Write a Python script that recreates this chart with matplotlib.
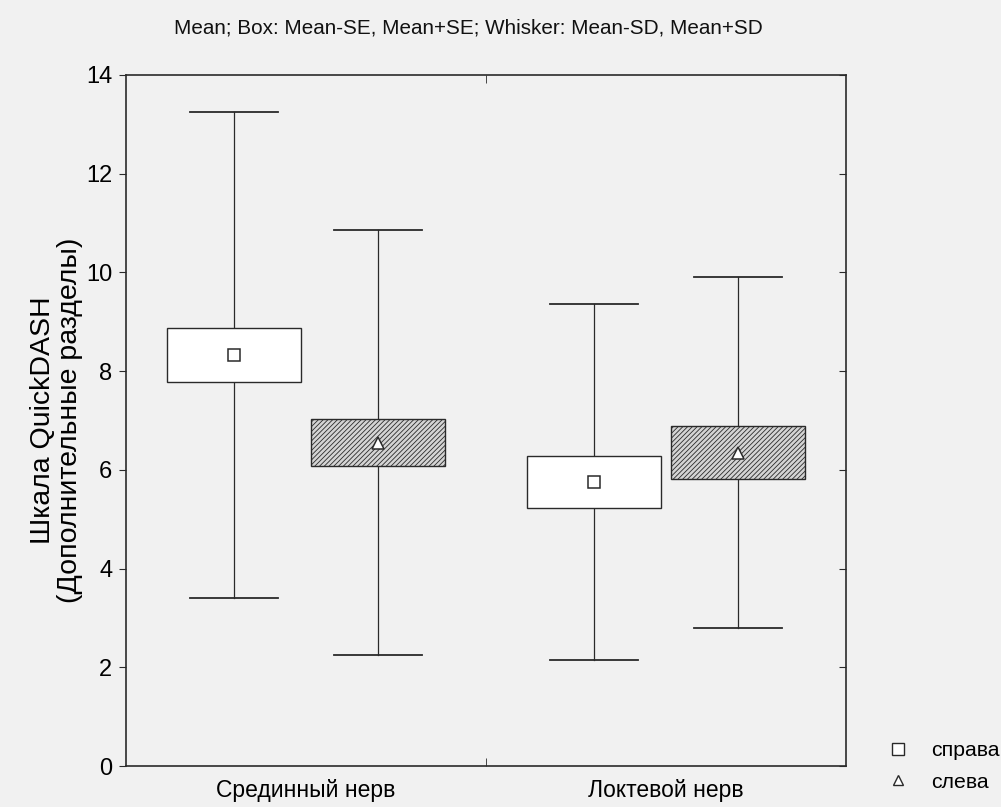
import numpy as np
import matplotlib.pyplot as plt
from matplotlib.patches import Rectangle
from matplotlib.lines import Line2D

# data
nerves = ['Срединный нерв', 'Локтевой нерв']
sides = ['справа', 'слева']
mean_right = [8.33, 5.75]
se_right = [0.55, 0.53]
sd_right = [4.92, 3.60]
mean_left = [6.55, 6.35]
se_left = [0.48, 0.53]
sd_left = [4.30, 3.55]
y_ticks = [0, 2, 4, 6, 8, 10, 12, 14]

plt.rcParams['font.family'] = ['Liberation Sans', 'DejaVu Sans']
plt.rcParams['hatch.color'] = '#8c8c8c'
plt.rcParams['hatch.linewidth'] = 0.6
bg = '#f1f1f1'
ink = '#2a2a2a'

fig = plt.figure(figsize=(10.01, 8.07), dpi=100, facecolor=bg)
ax = fig.add_axes([0.1259, 0.0508, 0.7193, 0.8563], facecolor=bg)

def draw_group(pos, means, ses, sds, marker, hatched):
    box_w = 0.372
    cap_w = 0.245
    for x, m, se, sd in zip(pos, means, ses, sds):
        ax.plot([x, x], [m - sd, m - se], color=ink, lw=0.9, zorder=2)
        ax.plot([x, x], [m + se, m + sd], color=ink, lw=0.9, zorder=2)
        ax.plot([x - cap_w / 2, x + cap_w / 2], [m - sd, m - sd], color=ink, lw=1.3, zorder=2)
        ax.plot([x - cap_w / 2, x + cap_w / 2], [m + sd, m + sd], color=ink, lw=1.3, zorder=2)
        if hatched:
            r = Rectangle((x - box_w / 2, m - se), box_w, 2 * se, facecolor='#d4d4d4',
                          edgecolor=ink, hatch='///////', lw=1.0, zorder=3)
        else:
            r = Rectangle((x - box_w / 2, m - se), box_w, 2 * se, facecolor='white',
                          edgecolor=ink, lw=1.0, zorder=3)
        ax.add_patch(r)
        ax.plot(x, m, marker=marker, ms=9 if marker == 's' else 8, mfc='white',
                mec=ink, mew=1.1, zorder=4)

centers = np.arange(len(nerves))
draw_group(centers - 0.2, mean_right, se_right, sd_right, 's', False)
draw_group(centers + 0.2, mean_left, se_left, sd_left, '^', True)

ax.set_xlim(-0.5, 1.5)
ax.set_ylim(0, 14)
ax.set_yticks(y_ticks)
ax.set_yticklabels([str(v) for v in y_ticks], fontsize=17)
ax.set_xticks(centers)
ax.set_xticklabels(nerves, fontsize=16.5)
ax.tick_params(axis='x', length=0, pad=9)
ax.tick_params(axis='y', direction='out', length=5, width=0.8, color=ink, right=True, pad=5)
ax.set_xticks([0.5], minor=True)
ax.tick_params(axis='x', which='minor', direction='in', length=6, top=True, bottom=True, color=ink)
for s in ax.spines.values():
    s.set_color(ink)
    s.set_linewidth(1.2)

# right ticks point inward
for t in ax.yaxis.get_major_ticks():
    t.tick2line.set_marker(0)

ax.set_ylabel('Шкала QuickDASH\n(Дополнительные разделы)', fontsize=20.5, linespacing=1.05)
ax.yaxis.set_label_coords(-0.06, 0.5)

fig.text(0.468, 0.965, 'Mean; Box: Mean-SE, Mean+SE; Whisker: Mean-SD, Mean+SD',
         ha='center', va='center', fontsize=14.9, color='#111111')

handles = [Line2D([], [], ls='none', marker='s', ms=9, mfc='white', mec=ink, mew=1.0),
           Line2D([], [], ls='none', marker='^', ms=7, mfc='white', mec=ink, mew=1.0)]
fig.legend(handles, sides, loc='center left', bbox_to_anchor=(0.886, 0.0502), frameon=False,
           fontsize=15.3, handlelength=1.0, handletextpad=1.1, labelspacing=0.6,
           borderpad=0, borderaxespad=0)

fig.savefig('out.png', dpi=100, facecolor=bg)
